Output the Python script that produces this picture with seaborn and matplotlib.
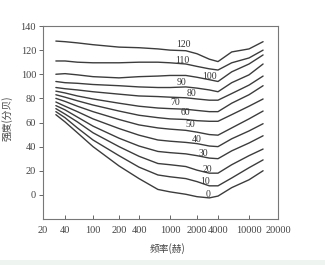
import numpy as np
import matplotlib
matplotlib.use("Agg")
import matplotlib.pyplot as plt
import seaborn as sns
import pandas as pd

# ---- data ----
freqs = [30, 40, 60, 100, 200, 400, 700, 1000, 1500, 2000, 3000, 4000, 6000, 10000, 14000]
phon_levels = [0, 10, 20, 30, 40, 50, 60, 70, 80, 90, 100, 110, 120]
spl_0   = [66.5, 60.5, 51.5, 40, 24, 13.5, 4.5, 2.5, 0.5, -1.5, -2.5, -1, 6, 12.5, 20]
spl_10  = [69, 64, 55.5, 45.5, 32.5, 23, 16.5, 15, 13.5, 11, 7.5, 7.5, 14, 22.5, 29]
spl_20  = [71.5, 67, 60.5, 51.5, 40, 32, 26, 25, 23.5, 20.5, 18, 18, 25, 32.5, 38]
spl_30  = [74, 70.5, 64.5, 57, 47, 40.5, 36, 35, 34, 32.5, 30.5, 30, 36.5, 43, 49]
spl_40  = [77, 73.5, 69, 63, 55, 49.5, 45.5, 44.5, 43.5, 42.5, 40.5, 40, 46.5, 53, 59]
spl_50  = [80, 77.5, 73.5, 69, 62.5, 58, 55.5, 54.5, 53.5, 52, 50, 49.5, 55.5, 63, 69.5]
spl_60  = [83, 81, 78, 74.5, 69.5, 66, 64, 63, 62.5, 61.5, 61, 61, 66.5, 73.5, 79.5]
spl_70  = [86, 84.5, 82, 79.5, 76, 73.5, 72, 71.5, 71, 70, 69, 69, 76, 83, 90.5]
spl_80  = [89, 88, 87, 85.5, 83.5, 82, 81.5, 81, 80.5, 79.5, 78.5, 78.5, 84, 91, 98.5]
spl_90  = [94, 93, 92.5, 91.5, 90.5, 89.5, 89, 89, 89.5, 88.5, 87, 85.5, 93, 99.5, 108.5]
spl_100 = [100, 100.5, 99.5, 98, 97, 98, 98.5, 99, 99, 97.5, 95.5, 94, 102, 108.5, 116]
spl_110 = [111, 111, 110, 109.5, 109.5, 110, 110, 109.5, 108.5, 106.5, 104.5, 103.5, 109.5, 113.5, 120]
spl_120 = [127.5, 127, 126, 124.5, 122.5, 122, 121, 120, 119.5, 117, 112.5, 110.5, 118.5, 121, 127]
curves = [spl_0, spl_10, spl_20, spl_30, spl_40, spl_50, spl_60,
          spl_70, spl_80, spl_90, spl_100, spl_110, spl_120]

# curve label anchors (frequency, dB)
label_freq = [2900, 2600, 2830, 2460, 1990, 1670, 1470, 1137, 1740, 1360, 3070, 1360, 1395]
label_db   = [0, 11, 20.7, 34.5, 45.6, 58, 68.2, 76.8, 84.3, 93.4, 98, 111.8, 124.3]

x_ticks = [20, 40, 100, 200, 400, 1000, 2000, 4000, 10000, 20000]
x_tick_labels = ["20", "40", "100", "200", "400", "1000", "2000", "4000", "10000", "20000"]
y_ticks = [0, 20, 40, 60, 80, 100, 120, 140]

# ---- non-uniform frequency axis of the printed figure ----
tick_pos = np.array([0, 22, 50, 76, 96, 127, 154, 175, 206, 235], dtype=float)
log_ticks = np.log10(np.array(x_ticks, dtype=float))

def fwd(x):
    x = np.asarray(x, dtype=float)
    with np.errstate(divide="ignore", invalid="ignore"):
        lx = np.log10(np.clip(x, 1e-9, None))
    return np.interp(lx, log_ticks, tick_pos, left=-1e3, right=1e3)

def inv(p):
    p = np.asarray(p, dtype=float)
    return 10 ** np.interp(p, tick_pos, log_ticks)

rows = []
for lvl, vals in zip(phon_levels, curves):
    for f, v in zip(freqs, vals):
        rows.append({"freq": f, "spl": v, "phon": lvl})
df = pd.DataFrame(rows)

sns.set_theme(style="white")
plt.rcParams["font.family"] = ["Liberation Serif", "Noto Sans CJK SC", "DejaVu Sans"]

fig = plt.figure(figsize=(3.25, 2.65), dpi=100)
ax = fig.add_axes([43 / 325, 1 - 219 / 265, 235 / 325, 193 / 265])
ax.set_xscale("function", functions=(fwd, inv))

line_color = "#3c3c3c"
sns.lineplot(data=df, x="freq", y="spl", hue="phon", units="phon", estimator=None,
             palette=[line_color] * len(phon_levels), legend=False, sort=False,
             linewidth=1.0, ax=ax)

for lvl, lf, ldb in zip(phon_levels, label_freq, label_db):
    ax.text(lf, ldb, str(lvl), fontsize=7, color="#333333", ha="center", va="center",
            family=["Liberation Serif"])

ax.set_xlim(20, 20000)
ax.set_ylim(-20, 140)
ax.set_xticks(x_ticks)
ax.set_xticklabels(x_tick_labels)
ax.xaxis.set_minor_locator(matplotlib.ticker.NullLocator())
ax.set_yticks(y_ticks)
ax.tick_params(axis="y", direction="out", length=3, width=0.7, color="#666666",
               labelsize=7.5, labelcolor="#444444", pad=2, left=True)
ax.tick_params(axis="x", direction="in", length=3, width=0.7, color="#666666",
               labelsize=7.5, labelcolor="#444444", pad=5, bottom=True)
for s in ax.spines.values():
    s.set_color("#777777")
    s.set_linewidth(0.8)

ax.set_xlabel("频率(赫)", fontsize=7, color="#444444",
              family=["Noto Sans CJK SC", "DejaVu Sans"])
ax.set_ylabel("强度(分贝)", fontsize=7, color="#444444",
              family=["Noto Sans CJK SC", "DejaVu Sans"])
ax.xaxis.set_label_coords(0.53, -0.125)
ax.yaxis.set_label_coords(-0.13, 0.52)

# light band at the bottom of the screenshot
fig.patches.append(matplotlib.patches.Rectangle((0, 0), 1, 5 / 265, transform=fig.transFigure,
                                                facecolor="#eef5f0", edgecolor="none", zorder=0))

fig.savefig("out.png", dpi=100)
